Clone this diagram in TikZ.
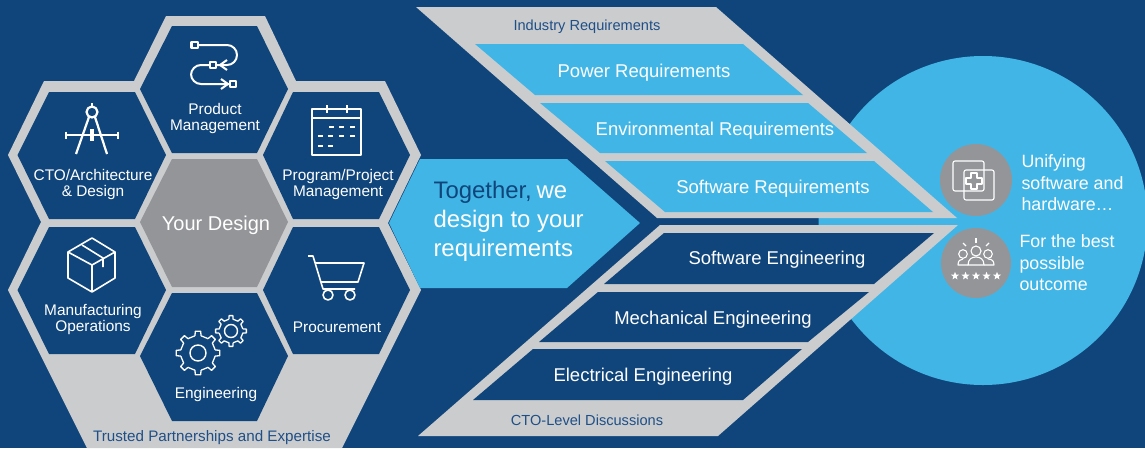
\documentclass[tikz,border=0pt]{standalone}
\usepackage{fontspec}
\setmainfont{Liberation Sans}
\usetikzlibrary{shapes.geometric}

\definecolor{navy}{HTML}{10457B}
\definecolor{sky}{HTML}{41B6E6}
\definecolor{lightgray}{HTML}{CBCCCE}
\definecolor{midgray}{HTML}{939598}
\definecolor{labelblue}{HTML}{1F4F87}

\tikzset{
  iconline/.style={draw=white,line width=1.6pt,line join=round},
  thinicon/.style={draw=white,line width=1.1pt,line join=round},
  hexlabel/.style={text=white,align=center,font=\fontsize{15.4}{16}\selectfont},
  reqlabel/.style={text=white,font=\fontsize{18.5}{20}\selectfont},
  greylabel/.style={text=labelblue,font=\fontsize{14.6}{16}\selectfont},
  sidelabel/.style={text=white,align=left,anchor=west,font=\fontsize{17.8}{21.6}\selectfont},
}

%% one gear: centre x, centre y, root radius, tip radius, half tooth angle
\newcommand{\gearicon}[5]{%
  \foreach \i in {1,...,8} {
    \pgfmathsetmacro\t{45*\i}
    \pgfmathsetmacro\tn{45*\i+45}
    \draw[thinicon,line width=1.3pt,shift={(#1,#2)}] (\t-#5-3:#3) -- (\t-#5:#4) -- (\t+#5:#4)
      -- (\t+#5+3:#3) -- (\tn-#5-3:#3);
  }
}

\begin{document}
\begin{tikzpicture}[x=1pt,y=-1pt]
  \useasboundingbox (0,0) rectangle (1145,448);
  \fill[navy] (0,0) rectangle (1145,448);

  %% the big circle, under the two fans
  \fill[sky] (983,220.5) circle (164.5);

  %% grey silhouette behind the hexagons
  \fill[lightgray] (166,16) -- (265,16) -- (296,81) -- (385,81) -- (421,155)
    -- (388,223) -- (421,290) -- (342,448) -- (87,448) -- (8,290) -- (41,222)
    -- (8,155) -- (44,81) -- (134,81) -- cycle;

  %% hexagon cells
  \fill[navy] (172,26) -- (257,26) -- (288,89) -- (257,153) -- (172,153) -- (140,89) -- cycle;
  \fill[navy] (49,92) -- (135,92) -- (166,155) -- (135,219) -- (49,219) -- (17.5,155) -- cycle;
  \fill[navy] (293,92) -- (379,92) -- (410,155) -- (379,219) -- (293,219) -- (263,155) -- cycle;
  \fill[midgray] (172,159) -- (257,159) -- (288,222) -- (257,287) -- (172,287) -- (140,222) -- cycle;
  \fill[navy] (49,227) -- (135,227) -- (166,290) -- (135,354) -- (49,354) -- (17.5,290) -- cycle;
  \fill[navy] (293,227) -- (379,227) -- (410,290) -- (379,354) -- (293,354) -- (263,290) -- cycle;
  \fill[navy] (172,293) -- (257,293) -- (288,356) -- (257,421) -- (172,421) -- (140,356) -- cycle;

  %% arrow in the middle
  \fill[sky] (420,159) -- (567,159) -- (640,223) -- (567,288) -- (420,288) -- (389,223) -- cycle;

  %% upper fan
  \fill[lightgray] (416,7) -- (716,7) -- (957,218) -- (657,218) -- cycle;
  \fill[sky] (475,44) -- (743,44) -- (803,95) -- (535,95) -- cycle;
  \fill[sky] (540,103) -- (808,103) -- (867,153) -- (600,153) -- cycle;
  \fill[sky] (605,161) -- (874,161) -- (933,212) -- (665,212) -- cycle;

  %% lower fan
  \fill[lightgray] (660,225) -- (958,225) -- (718,436) -- (418,436) -- cycle;
  \fill[navy] (664,233) -- (934,233) -- (874,284) -- (604,284) -- cycle;
  \fill[navy] (598,292) -- (869,292) -- (808,342) -- (539,342) -- cycle;
  \fill[navy] (533,349) -- (802,349) -- (743,400) -- (473,400) -- cycle;

  %% grey discs
  \fill[midgray] (976,180) circle (36);
  \fill[midgray] (976,263) circle (35);

  %% hexagon labels
  \node[hexlabel] (product) at (215,119) {Product\\Management};
  \node[hexlabel] (cto) at (93,185) {CTO/Architecture\\\& Design};
  \node[hexlabel] (program) at (338,185) {Program/Project\\Management};
  \node[text=white,font=\fontsize{20}{22}\selectfont] (yourdesign) at (216,225) {Your Design};
  \node[hexlabel] (manufacturing) at (93,320) {Manufacturing\\Operations};
  \node[hexlabel] (procurement) at (337,327) {Procurement};
  \node[hexlabel] (engineering) at (216,395) {Engineering};
  \node[greylabel,font=\fontsize{15.2}{16}\selectfont] (trusted) at (212,438) {Trusted Partnerships and Expertise};

  %% arrow label
  \node[text=white,align=left,anchor=west,font=\fontsize{23.9}{29}\selectfont] (together) at (430,221)
    {\textcolor{navy}{Together,}\kern-2pt\ we\\design to your\\requirements};

  %% fan labels
  \node[greylabel] (industry) at (587,27) {Industry Requirements};
  \node[reqlabel] (power) at (644,73) {Power Requirements};
  \node[reqlabel] (environmental) at (715,131) {Environmental Requirements};
  \node[reqlabel] (softwarereq) at (773,189) {Software Requirements};
  \node[reqlabel] (softwareeng) at (777,260) {Software Engineering};
  \node[reqlabel] (mechanical) at (713,320) {Mechanical Engineering};
  \node[reqlabel] (electrical) at (643,377) {Electrical Engineering};
  \node[greylabel] (ctolevel) at (587,420) {CTO-Level Discussions};

  %% circle labels
  \node[sidelabel] (unifying) at (1018,183) {Unifying\\software and\\hardware\dots};
  \node[sidelabel] (bestoutcome) at (1016,263) {For the best\\possible\\outcome};

  %% product management icon
  \draw[iconline,line width=2pt,rounded corners=10pt] (199,45) -- (237,45) -- (237,65) -- (217,65);
  \draw[iconline,line width=2pt] (227,60) -- (220,65) -- (227,70);
  \draw[iconline,line width=2pt,rounded corners=10pt] (210,65) -- (191,65) -- (191,84) -- (229,84);
  \draw[iconline,line width=2pt] (221,79) -- (228,84) -- (221,89);
  \draw[iconline,line width=2.2pt] (191.5,42) rectangle (198,48);
  \draw[iconline,line width=2.2pt] (210,62) rectangle (216,68);
  \draw[iconline,line width=2.2pt] (230,81) rectangle (236,87);

  %% compass icon
  \draw[iconline,line width=2.2pt] (92,112) circle (5.5);
  \draw[iconline,line width=2.2pt] (92,103) -- (92,106);
  \draw[iconline,line width=2.2pt] (89,117) -- (76,154);
  \draw[iconline,line width=2.2pt] (95,117) -- (107,154);
  \draw[iconline,line width=2pt] (66,135) -- (118,135);
  \draw[iconline,line width=2pt] (66,131.5) -- (66,138.5);
  \draw[iconline,line width=2pt] (118,131.5) -- (118,138.5);
  \draw[iconline,line width=3.4pt] (92,129) -- (92,141);

  %% calendar icon
  \draw[iconline] (312,109) rectangle (361,155);
  \draw[iconline] (312,118) -- (361,118);
  \draw[iconline] (327,105) -- (327,113);
  \draw[iconline] (347,105) -- (347,113);
  \foreach \x/\y in {329/127,339/127,350/127,318/136,328/136,339/136,350/136,318/146,328/146}
    \draw[thinicon,line width=1.2pt] (\x,\y) -- ++(4.5,0);

  %% box icon
  \draw[iconline] (92,238) -- (115,252) -- (115,278) -- (92,292) -- (68,278) -- (68,252) -- cycle;
  \draw[iconline] (68,252) -- (92,265) -- (115,252);
  \draw[iconline] (92,265) -- (92,292);
  \draw[iconline] (82,245) -- (103,258) -- (103,267);

  %% cart icon
  \draw[iconline] (308,256) -- (313,256) -- (323,289) -- (355,289);
  \draw[iconline] (315,263) -- (364,263) -- (358,282) -- (321,282);
  \draw[iconline] (328,295) circle (5);
  \draw[iconline] (350,295) circle (5);

  %% gear icons
  \gearicon{198}{353}{17.5}{22}{7}
  \draw[thinicon,line width=1.4pt] (198,353) circle (8);
  \gearicon{231}{331}{12}{15.5}{7}
  \draw[thinicon,line width=1.4pt] (231,331) circle (6.5);

  %% unify icon
  \draw[thinicon,rounded corners=2pt] (953,161) rectangle (984,191);
  \draw[thinicon,rounded corners=2pt] (964,170) rectangle (994,200);
  \draw[thinicon,line width=1.3pt] (971,173) -- (977,173) -- (977,178) -- (982,178) -- (982,184)
    -- (977,184) -- (977,189) -- (971,189) -- (971,184) -- (966,184) -- (966,178) -- (971,178) -- cycle;

  %% people icon
  \draw[thinicon] (976,251) circle (5);
  \draw[thinicon] (963,254) circle (4.3);
  \draw[thinicon] (988,254) circle (4.3);
  \draw[thinicon] (968,265) .. controls (968,259) and (972,257) .. (976,257)
    .. controls (980,257) and (984,259) .. (984,265) -- cycle;
  \draw[thinicon] (968,265) -- (958,265) .. controls (958,261) and (960,259) .. (963,259);
  \draw[thinicon] (984,265) -- (994,265) .. controls (994,261) and (992,259) .. (988,259);
  \draw[thinicon] (976,238) -- (976,243);
  \draw[thinicon] (963,243) -- (966,246);
  \draw[thinicon] (989,243) -- (986,246);
  \foreach \x in {955,965.5,976,986.5,997}
    \node[star,star points=5,star point ratio=2.4,fill=white,inner sep=0pt,minimum size=8.5pt] (star\x) at (\x,276) {};
\end{tikzpicture}
\end{document}
